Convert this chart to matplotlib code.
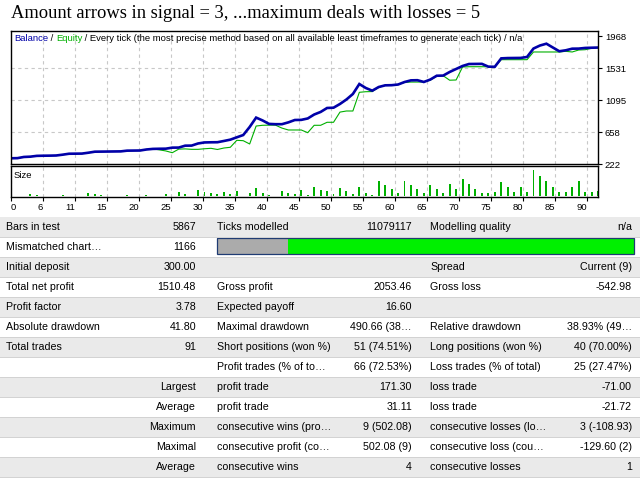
import numpy as np
import matplotlib
matplotlib.use("Agg")
import matplotlib.pyplot as plt
from matplotlib.patches import Rectangle

plt.rcParams['font.family'] = ['Liberation Sans Narrow', 'Liberation Sans', 'DejaVu Sans']

# chart data
title = "Amount arrows in signal = 3, ...maximum deals with losses = 5"
mode_text = " / Every tick (the most precise method based on all available least timeframes to generate each tick) / n/a"

balance = [300, 302, 318, 322, 333, 335, 336, 338, 349, 362,
           363, 364, 376, 390, 391, 392, 393, 394, 404, 405,
           406, 420, 428, 430, 431, 445, 446, 472, 473, 502,
           516, 518, 519, 536, 554, 586, 617, 727, 855, 816,
           769, 765, 765, 790, 822, 824, 843, 897, 932, 986,
           990, 1041, 1102, 1177, 1313, 1259, 1222, 1272, 1295, 1297,
           1306, 1340, 1363, 1365, 1341, 1374, 1426, 1428, 1477, 1518,
           1559, 1586, 1587, 1588, 1550, 1548, 1663, 1667, 1668, 1669,
           1682, 1797, 1838, 1863, 1811, 1760, 1773, 1795, 1796, 1805,
           1808, 1810.48]

equity = [300, 302, 318, 322, 333, 335, 336, 338, 349, 362,
          363, 364, 376, 390, 391, 392, 393, 394, 404, 405,
          406, 420, 428, 415, 400, 376, 425, 428, 422, 422,
          430, 436, 420, 440, 450, 545, 540, 495, 740, 750,
          752, 752, 712, 686, 686, 686, 649, 750, 750, 791,
          791, 930, 945, 945, 1200, 1208, 1210, 1268, 1295, 1297,
          1306, 1335, 1340, 1340, 1341, 1365, 1420, 1426, 1365, 1368,
          1545, 1549, 1549, 1549, 1549, 1549, 1645, 1645, 1645, 1645,
          1645, 1750, 1750, 1750, 1750, 1750, 1759, 1750, 1777, 1781,
          1800, 1810.48]

lot_size = [0, 0, 0, .02, .01, 0, 0, 0, .01, 0,
            0, 0, .03, .02, .01, 0, 0, 0, .01, 0,
            0, .01, 0, 0, .02, 0, .04, .02, 0, .06,
            .04, .03, .02, .04, .02, .05, 0, .03, .08, .03,
            .01, 0, .05, .03, .02, .06, .01, .09, .06, .05,
            .02, .08, .05, .02, .09, .03, .01, .15, .11, .07,
            .03, .15, .11, .07, .03, .11, .07, .03, .12, .07,
            .17, .12, .07, .03, .03, .04, .14, .09, .04, .09,
            .04, .26, .20, .15, .09, .04, .04, .09, .15, .04,
            .04, .05]

x_labels = ["0", "6", "11", "15", "20", "25", "30", "35", "40", "45",
            "50", "55", "60", "65", "70", "75", "80", "85", "90"]
y_ticks = [222, 658, 1095, 1531, 1968]

report_rows = [
    ["Bars in test", "5867", "Ticks modelled", "11079117", "Modelling quality", "n/a"],
    ["Mismatched chart\u2026", "1166", "", "", "", ""],
    ["Initial deposit", "300.00", "", "", "Spread", "Current (9)"],
    ["Total net profit", "1510.48", "Gross profit", "2053.46", "Gross loss", "-542.98"],
    ["Profit factor", "3.78", "Expected payoff", "16.60", "", ""],
    ["Absolute drawdown", "41.80", "Maximal drawdown", "490.66 (38\u2026", "Relative drawdown", "38.93% (49\u2026"],
    ["Total trades", "91", "Short positions (won %)", "51 (74.51%)", "Long positions (won %)", "40 (70.00%)"],
    ["", "", "Profit trades (% of to\u2026", "66 (72.53%)", "Loss trades (% of total)", "25 (27.47%)"],
    ["", "Largest", "profit trade", "171.30", "loss trade", "-71.00"],
    ["", "Average", "profit trade", "31.11", "loss trade", "-21.72"],
    ["", "Maximum", "consecutive wins (pro\u2026", "9 (502.08)", "consecutive losses (lo\u2026", "3 (-108.93)"],
    ["", "Maximal", "consecutive profit (co\u2026", "502.08 (9)", "consecutive loss (cou\u2026", "-129.60 (2)"],
    ["", "Average", "consecutive wins", "4", "consecutive losses", "1"],
]
quality_gray_share = 0.17

# styles
W, H = 640, 480
fs = 7.7      # table text
cfs = 6.8     # chart text
blue = '#0000A8'
green = '#00B000'
grid_kw = dict(color='#C8C8C8', lw=0.8, ls=(0, (3, 3)))


def fx(px):
    return px / W


def fy(py):
    return 1 - py / H


fig = plt.figure(figsize=(6.4, 4.8), dpi=100)

fig.text(fx(11), fy(18.5), title, family='Liberation Serif', fontsize=13.3, va='baseline')

trades = np.arange(len(balance))
n_last = len(balance) - 1
xgrid = np.arange(1, 19) * 32 * n_last / 587

# balance / equity chart
ax = fig.add_axes([fx(11), fy(164), 587 / W, 133 / H])
ax.plot(trades, equity, color=green, lw=0.8)
ax.plot(trades, balance, color=blue, lw=1.9, solid_joinstyle='miter')
ax.set_xlim(0, n_last)
ax.set_ylim(222, 222 + 133 * (1968 - 222) / 128)
ax.set_xticks(xgrid)
ax.tick_params(axis='x', bottom=False, labelbottom=False)
ax.yaxis.tick_right()
ax.set_yticks(y_ticks)
ax.set_yticklabels([str(v) for v in y_ticks])
ax.tick_params(axis='y', direction='out', length=3, width=0.8, pad=2, labelsize=cfs)
ax.grid(True, **grid_kw)
ax.yaxis.get_gridlines()[-1].set_visible(False)
ax.yaxis.get_gridlines()[0].set_visible(False)
for s in ax.spines.values():
    s.set_linewidth(1.0)

t = fig.text(fx(14), fy(38.5), "Balance", color=blue, fontsize=cfs, va='center')
t = ax.annotate(" / ", xy=(1, 0), xycoords=t, va='bottom', fontsize=cfs)
t = ax.annotate("Equity", xy=(1, 0), xycoords=t, va='bottom', fontsize=cfs, color=green)
ax.annotate(mode_text, xy=(1, 0), xycoords=t, va='bottom', fontsize=cfs)

# size panel
sax = fig.add_axes([fx(11), fy(197), 587 / W, 31 / H])
sax.bar(trades, lot_size, width=0.3, color=green)
sax.set_xlim(0, n_last)
sax.set_ylim(-0.01, 0.30)
sax.set_yticks([])
sax.set_xticks(np.concatenate([[0], xgrid]))
sax.set_xticklabels(x_labels)
sax.tick_params(axis='x', direction='out', length=3, width=0.8, pad=1.5, labelsize=cfs)
for i, lab in enumerate(sax.get_xticklabels()):
    lab.set_horizontalalignment('left' if i == 0 else 'right')
sax.xaxis.grid(True, **grid_kw)
sax.text(3 / 587, 0.7, "Size", transform=sax.transAxes, fontsize=cfs, va='center')
for s in sax.spines.values():
    s.set_linewidth(1.0)

# report table
tax = fig.add_axes([0, 0, 1, 1])
tax.set_xlim(0, W)
tax.set_ylim(H, 0)
tax.axis('off')
top = 217
rh = 20
cols = [(6, 'left'), (196, 'right'), (217, 'left'), (412, 'right'), (430, 'left'), (632, 'right')]
for r, row in enumerate(report_rows):
    y0 = top + r * rh
    if r % 2 == 0:
        tax.add_patch(Rectangle((0, y0), W, rh, color='#EAEAEA', lw=0))
    tax.plot([0, W], [y0 + rh - 0.5, y0 + rh - 0.5], color='#D2D2D2', lw=0.7)
    for (cx, ha), txt in zip(cols, row):
        if txt:
            tax.text(cx, y0 + rh / 2, txt, ha=ha, va='center', fontsize=fs)

# modelling quality bar
bx0, bx1, by0, by1 = 217, 634, 237.5, 254
split = bx0 + quality_gray_share * (bx1 - bx0)
tax.add_patch(Rectangle((bx0, by0), split - bx0, by1 - by0, color='#ABABAB', lw=0))
tax.add_patch(Rectangle((split, by0), bx1 - split, by1 - by0, color='#00F000', lw=0))
tax.add_patch(Rectangle((bx0, by0), bx1 - bx0, by1 - by0, fill=False, ec='#1F3B73', lw=0.9))

fig.savefig('out.png', dpi=100)
